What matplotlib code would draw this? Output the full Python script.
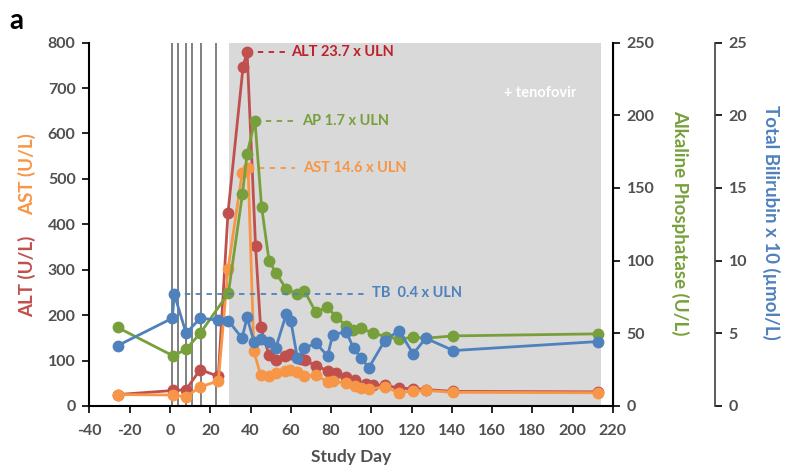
import matplotlib
matplotlib.use('Agg')
import matplotlib.pyplot as plt

plt.rcParams['font.family'] = ['Lato', 'DejaVu Sans']
plt.rcParams['axes.unicode_minus'] = False

# ALT / AST (U/L), left axis
alt_day = [-26, 1.6, 8, 15, 24, 28.8, 36.3, 38.3, 42.5, 45, 49.2, 52.5, 57, 59.5, 65, 67,
           72.5, 78.3, 82.5, 87.5, 91.7, 97.5, 101, 106.7, 113.8, 120.8, 127, 140.8, 212.5]
alt_val = [25, 34, 36, 80, 65, 425, 747, 780, 352, 173, 112, 101, 110, 114, 103, 101,
           88, 78, 72, 64, 57, 48, 45, 46, 39, 38, 36, 32, 31]
ast_day = [-26, 1.6, 8, 15, 24, 28.8, 35.8, 38.8, 41.7, 45, 49.2, 52.8, 57, 59.5, 63.3, 66.7,
           72.5, 78.3, 80.8, 87.5, 91.7, 95, 99, 106.7, 113.8, 120.8, 127, 140.8, 212.5]
ast_val = [25, 24, 20, 42, 55, 301, 512, 523, 120, 68, 66, 72, 77, 80, 75, 66,
           68, 53, 55, 50, 44, 39, 37, 42, 29, 33, 34, 30, 29]
# Alkaline phosphatase (U/L)
ap_day = [-26, 1.6, 8, 15, 29, 36, 38.3, 42.2, 45.5, 49.2, 52.5, 57.8, 63.3, 66.7, 72.5, 78,
          82.5, 87.5, 90.8, 95, 100.8, 107.5, 113.8, 120.8, 127, 140.8, 212.5]
ap_val = [54, 34.4, 39, 50, 77.6, 146, 173.5, 196.4, 137, 100, 91.8, 80.4, 77.1, 79.4, 64.3, 68,
          61.5, 55, 52.3, 53.5, 50, 47.7, 45.9, 47.3, 46.6, 48.2, 49.6]
# Total bilirubin x10 (umol/L)
tb_day = [-26, 1.2, 2.1, 8, 15, 24, 29, 35.8, 38.3, 41.7, 45, 49.2, 52.5, 57.8, 60, 63.3, 66.7,
          72.5, 78.3, 80.8, 87.5, 91.2, 95, 98.8, 106.7, 113.8, 120.8, 127, 140.8, 212.5]
tb_val = [4.15, 6.04, 7.7, 5.0, 6.04, 5.9, 5.87, 4.66, 6.1, 4.43, 4.59, 4.43, 3.97, 6.34, 5.87, 3.28, 3.97,
          4.32, 3.44, 4.89, 5.12, 3.97, 3.28, 2.63, 4.5, 5.19, 3.58, 4.66, 3.81, 4.43]

dose_days = [1.2, 3.8, 7.8, 10.8, 15.2, 22.8]
tenofovir = (29.5, 214)

RED, ORANGE, GREEN, BLUE = '#C0504D', '#F79646', '#77A03C', '#4F81BD'
TXT = '#505050'

fig = plt.figure(figsize=(7.99, 4.69), dpi=100)
ax = fig.add_axes([0.112, 0.1345, 0.655, 0.7745])
ax2 = ax.twinx()
ax3 = ax.twinx()

ax.axvspan(*tenofovir, color='#D9D9D9', lw=0, zorder=0)
ax.vlines(dose_days, 0, 800, color='#808080', lw=1.4, zorder=1)

mk = dict(marker='o', ms=7.5, lw=2, zorder=3)
ax.plot(alt_day, alt_val, color=RED, **mk)
ax.plot(ast_day, ast_val, color=ORANGE, **mk)
ax2.plot(ap_day, ap_val, color=GREEN, **mk)
ax3.plot(tb_day, tb_val, color=BLUE, **mk)

# peak annotations
dash = dict(ls=(0, (3, 3)), lw=1.3)
ax.plot([38.3, 58], [780, 780], color='#C0202A', **dash)
ax.text(60, 780, 'ALT 23.7 x ULN', color='#C0202A', fontsize=10.5, weight='bold', va='center')
ax.plot([38.8, 62], [523, 523], color=ORANGE, **dash)
ax.text(66, 523, 'AST 14.6 x ULN', color=ORANGE, fontsize=10.5, weight='bold', va='center')
ax2.plot([42.2, 63], [196.4, 196.4], color=GREEN, **dash)
ax2.text(65.5, 196.4, 'AP 1.7 x ULN', color=GREEN, fontsize=10.5, weight='bold', va='center')
ax3.plot([2.1, 97], [7.7, 7.7], color=BLUE, **dash)
ax3.text(100.5, 7.75, 'TB  0.4 x ULN', color=BLUE, fontsize=10.5, weight='bold', va='center')
ax.text(166, 690, '+ tenofovir', color='white', fontsize=10.5, weight='bold', va='center')

ax.set_xlim(-40, 220)
ax.set_ylim(0, 800)
ax.set_xticks(range(-40, 221, 20))
ax.set_yticks(range(0, 801, 100))
ax2.set_ylim(0, 250)
ax2.set_yticks(range(0, 251, 50))
ax3.set_ylim(0, 25)
ax3.set_yticks(range(0, 26, 5))
ax3.spines['right'].set_position(('axes', 1.195))

for a in (ax, ax2, ax3):
    a.spines['top'].set_visible(False)
    a.tick_params(direction='out', length=5, width=1.2, labelsize=11.5, labelcolor=TXT, pad=5)
    for lab in a.get_xticklabels() + a.get_yticklabels():
        lab.set_fontweight('bold')
ax.tick_params(axis='x', pad=8)
ax.spines['left'].set_linewidth(1.5)
ax.spines['bottom'].set_linewidth(1.5)
ax2.spines['right'].set_linewidth(1.5)
ax3.spines['right'].set_color('#404040')
ax3.spines['right'].set_linewidth(1.2)
ax2.spines['left'].set_visible(False)
ax3.spines['left'].set_visible(False)
ax2.spines['bottom'].set_visible(False)
ax3.spines['bottom'].set_visible(False)

ax.set_xlabel('Study Day', fontsize=12.5, weight='bold', color=TXT, labelpad=8)
fig.text(0.034, 0.41, 'ALT (U/L)', rotation=90, color=RED, fontsize=13.5, weight='bold',
         ha='center', va='center')
fig.text(0.034, 0.629, 'AST (U/L)', rotation=90, color=ORANGE, fontsize=13.5, weight='bold',
         ha='center', va='center')
fig.text(0.851, 0.525, 'Alkaline Phosphatase (U/L)', rotation=270, color=GREEN, fontsize=13.5,
         weight='bold', ha='center', va='center')
fig.text(0.965, 0.525, 'Total Bilirubin x 10 (\u00b5mol/L)', rotation=270, color=BLUE, fontsize=13.5,
         weight='bold', ha='center', va='center')
fig.text(0.012, 0.955, 'a', fontsize=20, weight='bold', color='black', ha='left', va='center')

fig.savefig('out.png', dpi=100, facecolor='white')
